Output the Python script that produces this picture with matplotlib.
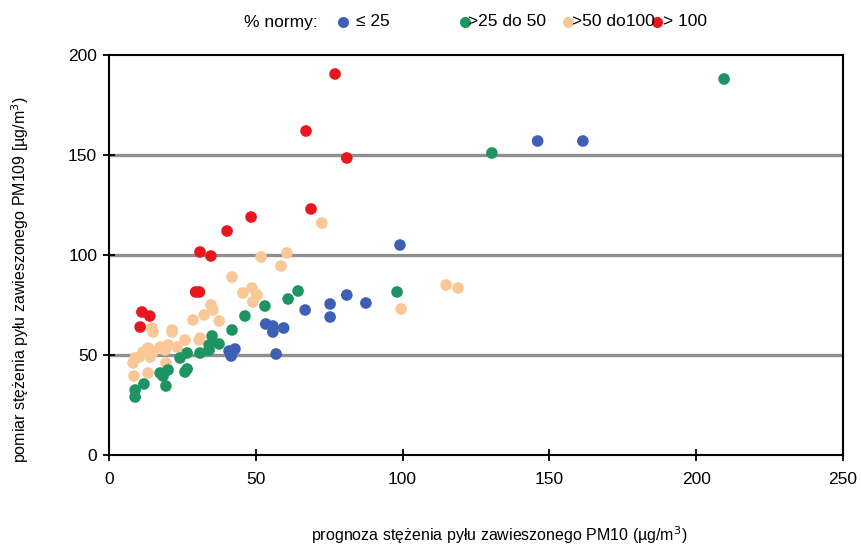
import matplotlib
matplotlib.use("Agg")
import matplotlib.pyplot as plt
from matplotlib.lines import Line2D

plt.rcParams['font.family'] = ['Liberation Sans Narrow', 'Liberation Sans', 'DejaVu Sans']

# data: (prognoza, pomiar)
blue_x = [99.1, 146, 161.4, 81, 75.3, 75.3, 87.5, 66.8, 53.4, 55.8, 55.8, 59.5, 56.9, 40.9, 42.9, 41.6]
blue_y = [105, 157, 157, 80, 75.5, 69, 76, 72.5, 65.5, 64.5, 61.5, 63.5, 50.5, 52, 53, 49.5]

green_x = [209.5, 130.4, 98.1, 64.4, 61, 53.1, 46.3, 41.9, 35.1, 34.1, 37.5, 34.1, 31, 26.6, 24.2,
           26.6, 25.9, 20.1, 17.4, 18.4, 19.4, 11.9, 8.9, 8.9]
green_y = [188, 151, 81.5, 82, 78, 74.5, 69.5, 62.5, 59.5, 55, 55.5, 52.5, 51, 51, 48.5,
           43, 41.5, 42.5, 41, 39.5, 34.5, 35.5, 32.5, 29]

orange_x = [114.8, 118.9, 99.5, 72.5, 60.6, 51.8, 58.6, 41.9, 45.6, 48.7, 50.4, 49, 34.7, 35.4,
            32.4, 37.5, 31, 28.6, 30.7, 25.9, 21.5, 23.2, 20.1, 19.1, 17.4, 15, 13.3, 11.6, 14,
            10.3, 8.9, 8.2, 8.5, 13.3, 19.4, 14.6, 15, 21.5]
orange_y = [85, 83.5, 73, 116, 101, 99, 94.5, 89, 81, 83.5, 80, 76.5, 75, 72.5,
            70, 67, 58.5, 67.5, 57.5, 57.5, 61.5, 54, 55, 52.5, 54, 51.5, 53.5, 51.5, 49,
            49, 48.5, 46, 39.5, 41, 46, 63.5, 61.5, 62.5]

red_x = [77, 67.1, 81, 68.8, 48.4, 40.2, 31, 34.7, 29.5, 30.8, 11.2, 13.9, 10.6]
red_y = [190.5, 162, 148.5, 123, 119, 112, 101.5, 99.5, 81.5, 81.5, 71.5, 69.5, 64]

labels = ["\u2264 25", ">25 do 50", ">50 do100", "> 100"]
colors = ["#3d5fb4", "#1e9463", "#f9c896", "#e8161e"]

xticks = [0, 50, 100, 150, 200, 250]
yticks = [0, 50, 100, 150, 200]

fig = plt.figure(figsize=(8.62, 5.48), dpi=100)
ax = fig.add_axes([109/862, 1-455/548, (843-109)/862, 400/548])

for yv in [50, 100, 150]:
    ax.axhline(yv, color="#8f8f8f", lw=2.4, zorder=1)

s = 70
for xs, ys, c in [(orange_x, orange_y, colors[2]), (green_x, green_y, colors[1]),
                  (blue_x, blue_y, colors[0]), (red_x, red_y, colors[3])]:
    ax.scatter(xs, ys, s=s, color=c, edgecolors='none', zorder=3)

ax.set_xlim(0, 250)
ax.set_ylim(0, 200)
ax.set_xticks(xticks)
ax.set_yticks(yticks)
ax.tick_params(direction='inout', length=9, width=1.3, labelsize=12.5, color='black')
ax.tick_params(axis='x', pad=8)
ax.tick_params(axis='y', pad=4)
for sp in ax.spines.values():
    sp.set_linewidth(1.5)
    sp.set_color('black')

fig.text(499/862, 1-535/548, "prognoza stężenia pyłu zawieszonego PM10 (µg/m$^3$)",
         ha='center', va='center', fontsize=11.5)
fig.text(20/862, 1-280/548, "pomiar stężenia pyłu zawieszonego PM109 [µg/m$^3$)",
         ha='center', va='center', rotation=90, fontsize=11.5)

# legend
ly = 1 - 22/548
fig.text(244/862, ly, "% normy:", ha='left', va='center', fontsize=12.5)
mx = [343, 465, 568, 657]
tx = [356, 468, 572, 663]
for m, t, c, lab in zip(mx, tx, colors, labels):
    fig.add_artist(Line2D([m/862], [ly], marker='o', markersize=8, color=c,
                          markeredgecolor='none', transform=fig.transFigure))
    fig.text(t/862, ly, lab, ha='left', va='center', fontsize=12.5)

fig.savefig("out.png", dpi=100)
